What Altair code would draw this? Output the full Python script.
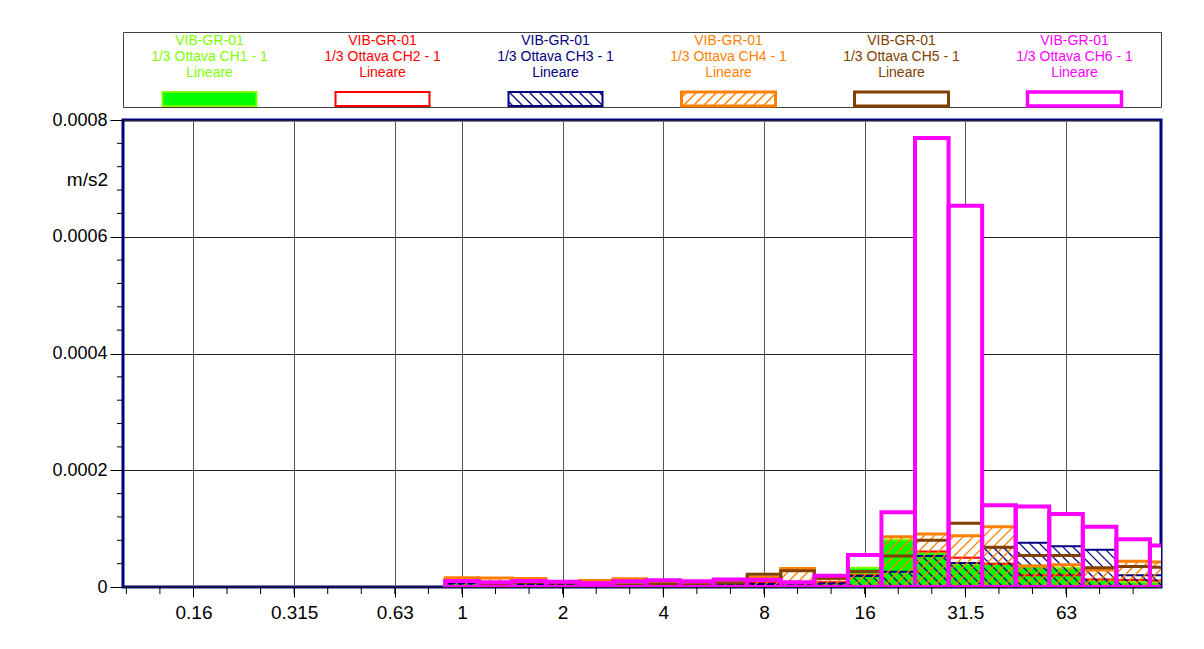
import altair as alt
import numpy as np
import pandas as pd

FONT = "Liberation Sans"

# 1/3-octave band centres (Hz) carrying data
BANDS = [1, 1.25, 1.6, 2, 2.5, 3.15, 4, 5, 6.3, 8, 10, 12.5,
         16, 20, 25, 31.5, 40, 50, 63, 80, 100, 125]

# band levels per channel, m/s2
CH1 = [6e-6, 2e-6, 5e-6, 5e-6, 2e-6, 2e-6, 3e-6, 3e-6, 4e-6, 5e-6, 3e-6, 6e-6,
       3.3e-5, 8.1e-5, 5.9e-5, 4.0e-5, 4.0e-5, 3.7e-5, 3.3e-5, 1.2e-5, 0.9e-5, 0.9e-5]
CH2 = [8e-6, 3e-6, 6e-6, 6e-6, 3e-6, 3e-6, 4e-6, 3e-6, 5e-6, 8e-6, 6e-6, 8e-6,
       2.0e-5, 5.3e-5, 6.1e-5, 5.0e-5, 4.0e-5, 2.0e-5, 2.0e-5, 1.3e-5, 1.2e-5, 1.1e-5]
CH3 = [6e-6, 2e-6, 5e-6, 4e-6, 2e-6, 2e-6, 3e-6, 3e-6, 4e-6, 5e-6, 3e-6, 6e-6,
       1.9e-5, 2.6e-5, 5.3e-5, 4.1e-5, 6.8e-5, 7.6e-5, 7.0e-5, 6.4e-5, 2.0e-5, 2.0e-5]
CH4 = [1.6e-5, 1.54e-5, 1.45e-5, 0.8e-5, 1.1e-5, 1.43e-5, 0.6e-5, 0.5e-5, 0.9e-5, 1.66e-5, 3.15e-5, 1.4e-5,
       2.6e-5, 8.6e-5, 9.1e-5, 8.8e-5, 10.3e-5, 3.6e-5, 3.8e-5, 2.9e-5, 4.4e-5, 4.3e-5]
CH5 = [1.0e-5, 0.35e-5, 0.8e-5, 0.7e-5, 0.5e-5, 0.4e-5, 0.5e-5, 0.4e-5, 0.7e-5, 2.2e-5, 2.8e-5, 1.5e-5,
       2.65e-5, 5.3e-5, 8.0e-5, 10.9e-5, 6.8e-5, 5.4e-5, 5.4e-5, 3.3e-5, 3.5e-5, 3.4e-5]
CH6 = [1.03e-5, 0.8e-5, 1.03e-5, 0.9e-5, 0.63e-5, 0.97e-5, 1.14e-5, 0.97e-5, 1.3e-5, 1.26e-5, 0.8e-5, 1.94e-5,
       5.5e-5, 12.8e-5, 76.9e-5, 65.3e-5, 14.0e-5, 13.8e-5, 12.5e-5, 10.3e-5, 8.2e-5, 7.1e-5]

SERIES = ["CH1", "CH2", "CH3", "CH4", "CH5", "CH6"]
VALUES = [CH1, CH2, CH3, CH4, CH5, CH6]
TEXT_COLORS = ["#80FF00", "#FF0000", "#000080", "#FF8000", "#804000", "#FF00FF"]

# axis: labelled bands and every 1/3-octave tick
MAJOR_LABELS = ["0.16", "0.315", "0.63", "1", "2", "4", "8", "16", "31.5", "63"]
MINOR_BANDS = [0.1, 0.125, 0.16, 0.2, 0.25, 0.315, 0.4, 0.5, 0.63, 0.8, 1, 1.25, 1.6, 2,
               2.5, 3.15, 4, 5, 6.3, 8, 10, 12.5, 16, 20, 25, 31.5, 40, 50, 63, 80, 100]
Y_TICKS = [0, 0.0002, 0.0004, 0.0006, 0.0008]
Y_MINOR = [0.00004, 0.00008, 0.00012, 0.00016, 0.00024, 0.00028, 0.00032, 0.00036,
           0.00044, 0.00048, 0.00052, 0.00056, 0.00064, 0.00068, 0.00072, 0.00076]


def band_pos(f):
    # position of a nominal 1/3-octave band on a tenth-of-a-decade grid
    return round(10 * np.log10(f)) / 10


W, H = 1038, 467
X_MIN, X_MAX = -1.01, 2.083
Y_MAX = 0.0008
KX = W / (X_MAX - X_MIN)
KY = H / Y_MAX
HATCH_STEP = 10


def hatch(x0, x1, h, step, kind):
    """Diagonal hatch segments clipped to the box [x0,x1] x [0,h] (pixels, y up)."""
    segs = []
    if kind == "/":
        c = np.floor((x0 - h) / step) * step
        while c <= x1:
            a, b = max(x0, c), min(x1, c + h)
            if b > a:
                segs.append((a, a - c, b, b - c))
            c += step
    else:
        c = np.floor(x0 / step) * step
        while c <= x1 + h:
            a, b = max(x0, c - h), min(x1, c)
            if b > a:
                segs.append((a, c - a, b, c - b))
            c += step
    return segs


rows = []
for name, vals in zip(SERIES, VALUES):
    for f, v in zip(BANDS, vals):
        p = band_pos(f)
        rows.append({"series": name, "band": f, "lo": p - 0.05, "hi": p + 0.05, "v": v})
bars_df = pd.DataFrame(rows)


def hatch_df(name, kind):
    segs = []
    for r in bars_df[bars_df.series == name].itertuples():
        x0 = (r.lo - X_MIN) * KX
        x1 = (r.hi - X_MIN) * KX
        for a, ya, b, yb in hatch(x0, x1, r.v * KY, HATCH_STEP, kind):
            segs.append({"xa": a / KX + X_MIN, "ya": ya / KY,
                         "xb": b / KX + X_MIN, "yb": yb / KY})
    return pd.DataFrame(segs)


major_pos = [band_pos(float(s)) for s in MAJOR_LABELS]
label_expr = "[{}][indexof([{}], round(datum.value*10))]".format(
    ",".join("'%s'" % s for s in MAJOR_LABELS),
    ",".join(str(int(round(p * 10))) for p in major_pos))

sx = alt.Scale(domain=[X_MIN, X_MAX], nice=False, zero=False)
sy = alt.Scale(domain=[0, Y_MAX], nice=False)
x_axis = alt.Axis(values=major_pos, labelExpr=label_expr, title=None, grid=True,
                  gridColor="#555555", gridWidth=1, tickSize=10, tickColor="#000000",
                  domain=False, labelFontSize=19, labelFont=FONT, labelColor="#000000",
                  labelPadding=6, labelFlush=False, labelOverlap=False)
y_axis = alt.Axis(values=Y_TICKS, title=None, grid=True, gridColor="#222222", gridWidth=1,
                  tickSize=13, tickColor="#000000", domain=False, labelFontSize=18,
                  labelFont=FONT, labelColor="#000000", labelPadding=3,
                  labelExpr="datum.value == 0 ? '0' : format(datum.value, '.4f')")


def enc_bar(chart):
    return chart.encode(
        x=alt.X("lo:Q", scale=sx, axis=x_axis), x2="hi",
        y=alt.Y("v:Q", scale=sy, axis=y_axis), y2=alt.datum(0))


def series_df(name):
    return bars_df[bars_df.series == name]


# white backing under the tallest bar of each band
backing = alt.Chart(bars_df).transform_aggregate(
    v="max(v)", groupby=["lo", "hi"]).mark_rect(fill="white", clip=True)
backing = enc_bar(backing)

ch1 = enc_bar(alt.Chart(series_df("CH1")).mark_rect(
    fill="#00FF00", stroke="#80FF00", strokeWidth=2, clip=True))
ch2 = enc_bar(alt.Chart(series_df("CH2")).mark_rect(
    fillOpacity=0, stroke="#FF0000", strokeWidth=2, clip=True))


def hatch_layer(name, kind, color, width):
    return alt.Chart(hatch_df(name, kind)).mark_rule(
        color=color, strokeWidth=width, clip=True).encode(
        x=alt.X("xa:Q", scale=sx, axis=x_axis), y=alt.Y("ya:Q", scale=sy, axis=y_axis),
        x2="xb", y2="yb")


ch3_h = hatch_layer("CH3", "\\", "#000080", 1.3)
ch3 = enc_bar(alt.Chart(series_df("CH3")).mark_rect(
    fillOpacity=0, stroke="#000080", strokeWidth=2, clip=True))
ch4_h = hatch_layer("CH4", "/", "#FF8000", 1.4)
ch4 = enc_bar(alt.Chart(series_df("CH4")).mark_rect(
    fillOpacity=0, stroke="#FF8000", strokeWidth=3, clip=True))
ch5 = enc_bar(alt.Chart(series_df("CH5")).mark_rect(
    fillOpacity=0, stroke="#804000", strokeWidth=3, clip=True))
ch6 = enc_bar(alt.Chart(series_df("CH6")).mark_rect(
    fillOpacity=0, stroke="#FF00FF", strokeWidth=4, clip=True))

minor_x = alt.Chart(pd.DataFrame({"pos": [band_pos(f) for f in MINOR_BANDS]})).mark_rule(
    color="#000000", strokeWidth=1).encode(
    x=alt.X("pos:Q", scale=sx, axis=x_axis), y=alt.value(H), y2=alt.value(H + 7))
minor_y = alt.Chart(pd.DataFrame({"v": Y_MINOR})).mark_rule(
    color="#000000", strokeWidth=1).encode(
    y=alt.Y("v:Q", scale=sy, axis=y_axis), x=alt.value(-6), x2=alt.value(0))
unit = alt.Chart(pd.DataFrame({"t": ["m/s2"]})).mark_text(
    align="right", baseline="middle", fontSize=19, font=FONT, color="#000000").encode(
    text="t:N", x=alt.value(-15), y=alt.value(60))

main = alt.layer(backing, ch1, ch2, ch3_h, ch3, ch4_h, ch4, ch5, ch6,
                 minor_x, minor_y, unit).properties(
    width=W, height=H,
    view=alt.ViewBackground(stroke="#000080", strokeWidth=3, fill="white"))

# ---- legend strip ----
LW, LH = W, 75
step = LW / 6
centers = [step * (i + 0.5) for i in range(6)]
text_rows = []
for i, name in enumerate(SERIES):
    for line, yy in zip(["VIB-GR-01", "1/3 Ottava %s - 1" % name, "Lineare"], [66.2, 50.2, 34.2]):
        text_rows.append({"x": centers[i], "y": yy, "t": line, "c": TEXT_COLORS[i]})
text_df = pd.DataFrame(text_rows)

SW_W, SW_Y0, SW_Y1 = 94, 1.0, 15.0
sw_df = pd.DataFrame({"series": SERIES,
                      "x0": [c - SW_W / 2 for c in centers],
                      "x1": [c + SW_W / 2 for c in centers]})
lx = alt.Scale(domain=[0, LW], nice=False, zero=False)
ly = alt.Scale(domain=[0, LH], nice=False, zero=False)


def swatch(name, **mark):
    return alt.Chart(sw_df[sw_df.series == name]).mark_rect(**mark).encode(
        x=alt.X("x0:Q", scale=lx, axis=None), x2="x1",
        y=alt.Y("y0:Q", scale=ly, axis=None), y2="y1").transform_calculate(
        y0=str(SW_Y0), y1=str(SW_Y1))


def swatch_hatch(name, kind, color, width):
    r = sw_df[sw_df.series == name].iloc[0]
    segs = hatch(r.x0, r.x1, SW_Y1 - SW_Y0, HATCH_STEP, kind)
    d = pd.DataFrame([{"xa": a, "ya": ya + SW_Y0, "xb": b, "yb": yb + SW_Y0}
                      for a, ya, b, yb in segs])
    return alt.Chart(d).mark_rule(color=color, strokeWidth=width).encode(
        x=alt.X("xa:Q", scale=lx, axis=None), y=alt.Y("ya:Q", scale=ly, axis=None),
        x2="xb", y2="yb")


legend_text = alt.Chart(text_df).mark_text(
    fontSize=14, font=FONT, baseline="middle", align="center").encode(
    x=alt.X("x:Q", scale=lx, axis=None), y=alt.Y("y:Q", scale=ly, axis=None),
    text="t:N", color=alt.Color("c:N", scale=None))

legend = alt.layer(
    legend_text,
    swatch("CH1", fill="#00FF00", stroke="#80FF00", strokeWidth=2),
    swatch("CH2", fill="white", stroke="#FF0000", strokeWidth=2),
    swatch_hatch("CH3", "\\", "#000080", 1.3),
    swatch("CH3", fillOpacity=0, stroke="#000080", strokeWidth=2),
    swatch_hatch("CH4", "/", "#FF8000", 1.4),
    swatch("CH4", fillOpacity=0, stroke="#FF8000", strokeWidth=3),
    swatch("CH5", fill="white", stroke="#804000", strokeWidth=3),
    swatch("CH6", fill="white", stroke="#FF00FF", strokeWidth=3.5),
).properties(width=LW, height=LH,
             view=alt.ViewBackground(stroke="#404040", strokeWidth=1, fill="white"))

chart = alt.vconcat(legend, main, spacing=0).properties(
    padding={"top": 31, "left": 50, "right": 10, "bottom": 10},
    background="white",
).configure(font=FONT)

chart.save("out.html", embed_options={"renderer": "svg", "actions": False})
